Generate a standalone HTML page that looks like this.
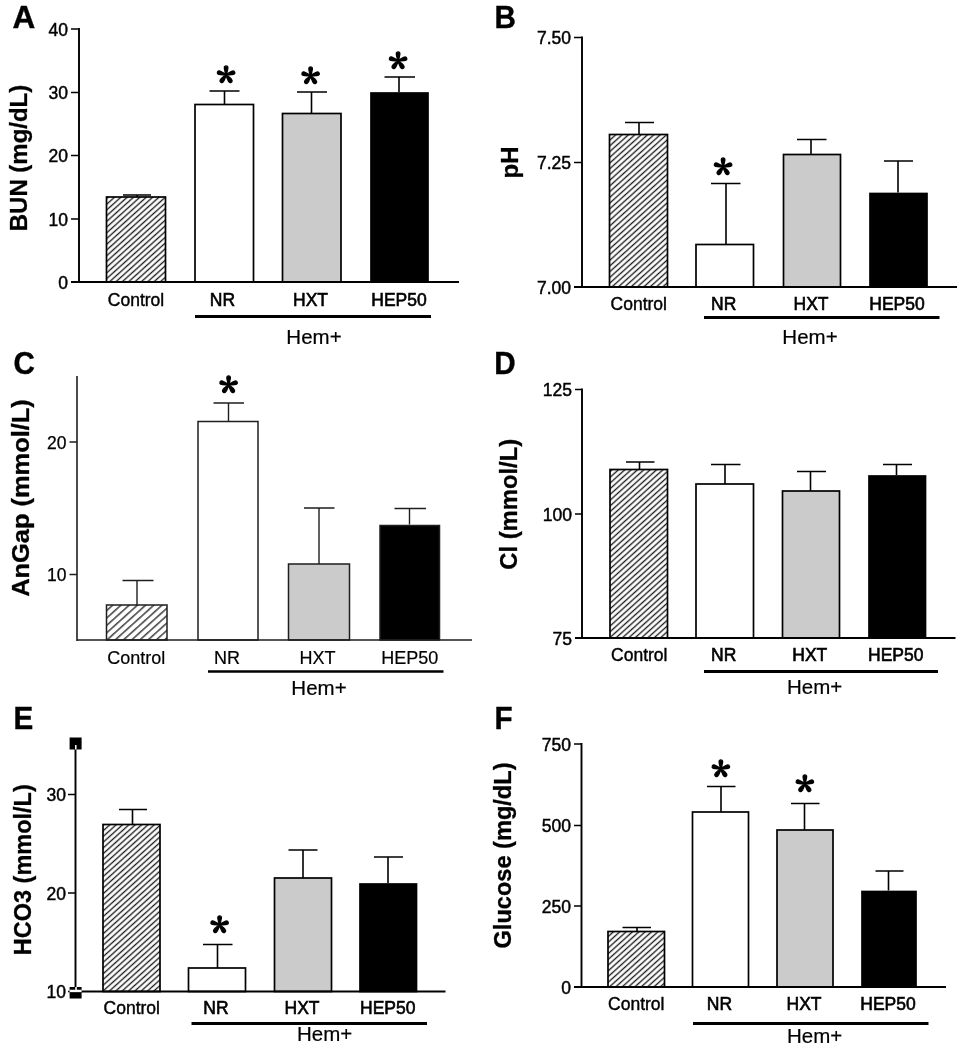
<!DOCTYPE html>
<html lang="en"><head><meta charset="utf-8"><title>Figure: BUN, pH, AnGap, Cl, HCO3, Glucose</title>
<style>
html,body{margin:0;padding:0;background:#fff;}
body{width:960px;height:1050px;overflow:hidden;}
svg{display:block;filter:grayscale(1) blur(0.35px);}
svg text{font-family:"Liberation Sans",Arial,Helvetica,sans-serif;fill:#000;}
.tick{font-size:17.5px;text-anchor:end;stroke:#000;stroke-width:0.45px;}
.cat{font-size:17.5px;text-anchor:middle;stroke:#000;stroke-width:0.4px;}
.catb{font-size:17.5px;text-anchor:middle;stroke:#000;stroke-width:0.6px;}
.hem{font-size:20.5px;text-anchor:middle;stroke:#000;stroke-width:0.2px;}
.let{font-size:31.5px;font-weight:bold;stroke:#000;stroke-width:0.4px;}
.yl{font-size:24px;font-weight:bold;text-anchor:middle;stroke:#000;stroke-width:0.3px;}
.ast{font-family:"Noto Serif CJK SC","Liberation Serif",serif;font-size:38.5px;font-weight:bold;text-anchor:middle;stroke:#000;stroke-width:1.3px;stroke-linejoin:round;}
.ax{stroke:#000;stroke-width:1.9;fill:none;stroke-linecap:butt;}
.tk{stroke:#000;stroke-width:1.5;fill:none;}
.er{stroke:#000;stroke-width:1.6;fill:none;}
.bar{stroke:#000;stroke-width:1.7;}
.ul{stroke:#000;stroke-width:3;}
.pc .ax{stroke:#1e1e1e;stroke-width:1.6;}
.pc .tk{stroke:#1e1e1e;stroke-width:1.3;}
.pc .er{stroke:#1e1e1e;stroke-width:1.4;}
.pc .bar{stroke:#1e1e1e;stroke-width:1.5;}
.pc .cat{font-size:18px;stroke-width:0.2px;}
.pc .tick{stroke-width:0.25px;}
.pc .ul{stroke-width:2.5;}
</style></head><body>
<svg width="960" height="1050" viewBox="0 0 960 1050">
<defs><pattern id="hatch" patternUnits="userSpaceOnUse" width="20" height="4.25" patternTransform="rotate(-42)">
<rect width="20" height="4.25" fill="#fff"/>
<rect y="1.5" width="20" height="1.35" fill="#1c1c1c"/>
</pattern>
<pattern id="hatchC" patternUnits="userSpaceOnUse" width="20" height="5.5" patternTransform="rotate(-42)">
<rect width="20" height="5.5" fill="#fff"/>
<rect y="2" width="20" height="1.3" fill="#222"/>
</pattern></defs>
<rect width="960" height="1050" fill="#fff"/>
<g class="p">
<text class="let" transform="translate(12.5 28) scale(1 1)">A</text>
<text class="yl" transform="translate(27 158) rotate(-90)" textLength="146.5" lengthAdjust="spacingAndGlyphs">BUN (mg/dL)</text>
<rect class="bar" x="106.5" y="197" width="59" height="85" fill="url(#hatch)"/>
<rect class="bar" x="195" y="104.5" width="58.5" height="177.5" fill="#fff"/>
<rect class="bar" x="282.5" y="113.5" width="58.5" height="168.5" fill="#cbcbcb"/>
<rect class="bar" x="371" y="93" width="57" height="189" fill="#000"/>
<path class="er" d="M137 197 V195 M123 195 H151"/>
<path class="er" d="M224.5 104.5 V91 M209.5 91 H239.5"/>
<path class="er" d="M311.5 113.5 V92 M297 92 H327"/>
<path class="er" d="M399 92 V77 M384.5 77 H415"/>
<path class="ax" d="M79 28.05 V282 M71 282 H459"/>
<path class="tk" d="M71 29 H79 M71 92.5 H79 M71 155.5 H79 M71 219 H79"/>
<text class="tick" x="68" y="35.7">40</text>
<text class="tick" x="68" y="99.2">30</text>
<text class="tick" x="68" y="162.2">20</text>
<text class="tick" x="68" y="225.7">10</text>
<text class="tick" x="68" y="288.7">0</text>
<text class="ast" x="226" y="97.6">*</text>
<text class="ast" x="310.6" y="98.6">*</text>
<text class="ast" x="398" y="83.6">*</text>
<text class="cat" x="136" y="305.5">Control</text>
<text class="catb" x="222.5" y="305.5">NR</text>
<text class="catb" x="310.5" y="305.5">HXT</text>
<text class="catb" x="399" y="305.5">HEP50</text>
<path class="ul" d="M195 316.5 H431"/>
<text class="hem" x="314" y="344">Hem+</text>
</g>
<g class="p">
<text class="let" transform="translate(494.5 28) scale(0.94 1)">B</text>
<text class="yl" transform="translate(518 162.5) rotate(-90)">pH</text>
<rect class="bar" x="609.5" y="134.5" width="58" height="152.5" fill="url(#hatch)"/>
<rect class="bar" x="696" y="244.5" width="57.5" height="42.5" fill="#fff"/>
<rect class="bar" x="783.5" y="154.5" width="57" height="132.5" fill="#cbcbcb"/>
<rect class="bar" x="870" y="193.5" width="57" height="93.5" fill="#000"/>
<path class="er" d="M639 134.5 V122.5 M625 122.5 H654"/>
<path class="er" d="M726 244.5 V183.5 M711 183.5 H740.5"/>
<path class="er" d="M811 154.5 V139.5 M797 139.5 H826.5"/>
<path class="er" d="M898 192.5 V161 M884 161 H913"/>
<path class="ax" d="M582 36.55 V287 M574 287 H957"/>
<path class="tk" d="M574 37.5 H582 M574 162.5 H582"/>
<text class="tick" x="571" y="44.2">7.50</text>
<text class="tick" x="571" y="169.2">7.25</text>
<text class="tick" x="571" y="293.7">7.00</text>
<text class="ast" x="723" y="190">*</text>
<text class="cat" x="638.75" y="310.3">Control</text>
<text class="catb" x="723.7" y="310.3">NR</text>
<text class="catb" x="811" y="310.3">HXT</text>
<text class="catb" x="897" y="310.3">HEP50</text>
<path class="ul" d="M704 317.5 H939.5"/>
<text class="hem" x="810" y="344">Hem+</text>
</g>
<g class="pc">
<text class="let" transform="translate(13.5 374) scale(0.94 1)">C</text>
<text class="yl" transform="translate(29.3 498) rotate(-90)" textLength="197.6" lengthAdjust="spacingAndGlyphs">AnGap (mmol/L)</text>
<rect class="bar" x="106.5" y="605" width="60.5" height="35" fill="url(#hatchC)"/>
<rect class="bar" x="198" y="421.5" width="60" height="218.5" fill="#fff"/>
<rect class="bar" x="288.5" y="564" width="61" height="76" fill="#cbcbcb"/>
<rect class="bar" x="380" y="525.5" width="59.5" height="114.5" fill="#000"/>
<path class="er" d="M137 605 V580.5 M122.5 580.5 H153.5"/>
<path class="er" d="M228.5 421.5 V403 M213.5 403 H244"/>
<path class="er" d="M319 564 V508 M304 508 H334.5"/>
<path class="er" d="M409.5 524.5 V508.5 M394.5 508.5 H426"/>
<path class="ax" d="M77 376.05 V640.95 M77 640 H472"/>
<path class="tk" d="M69.5 442 H77 M69.5 574.5 H77"/>
<text class="tick" x="66.5" y="448.7">20</text>
<text class="tick" x="66.5" y="581.2">10</text>
<text class="ast" x="228.5" y="407.6">*</text>
<text class="cat" x="136.25" y="664">Control</text>
<text class="cat" x="227" y="664">NR</text>
<text class="cat" x="317.5" y="664">HXT</text>
<text class="cat" x="409.7" y="664">HEP50</text>
<path class="ul" d="M208 671.5 H443.5"/>
<text class="hem" x="319" y="694.7">Hem+</text>
</g>
<g class="p">
<text class="let" transform="translate(494.3 374) scale(0.94 1)">D</text>
<text class="yl" transform="translate(517 504.3) rotate(-90)" textLength="131" lengthAdjust="spacingAndGlyphs">Cl (mmol/L)</text>
<rect class="bar" x="610" y="469.5" width="57.5" height="168.5" fill="url(#hatch)"/>
<rect class="bar" x="696" y="484" width="57.5" height="154" fill="#fff"/>
<rect class="bar" x="782.5" y="491" width="57" height="147" fill="#cbcbcb"/>
<rect class="bar" x="869" y="476" width="56.5" height="162" fill="#000"/>
<path class="er" d="M639.5 469.5 V462 M626 462 H654.5"/>
<path class="er" d="M725 484 V464.5 M711 464.5 H740.5"/>
<path class="er" d="M810.5 491 V471.5 M797 471.5 H826"/>
<path class="er" d="M896.5 475 V464.5 M883 464.5 H912"/>
<path class="ax" d="M582 388.55 V638 M575 638 H955.5"/>
<path class="tk" d="M575 389.5 H582 M575 514 H582"/>
<text class="tick" x="572" y="396.2">125</text>
<text class="tick" x="572" y="520.7">100</text>
<text class="tick" x="572" y="644.7">75</text>
<text class="cat" x="639.25" y="661">Control</text>
<text class="catb" x="723.7" y="661">NR</text>
<text class="catb" x="809.8" y="661">HXT</text>
<text class="catb" x="895.8" y="661">HEP50</text>
<path class="ul" d="M704 671.5 H938"/>
<text class="hem" x="814.7" y="694">Hem+</text>
</g>
<g class="p">
<text class="let" transform="translate(13.5 729) scale(0.94 1)">E</text>
<text class="yl" transform="translate(31 869.7) rotate(-90)" textLength="171" lengthAdjust="spacingAndGlyphs">HCO3 (mmol/L)</text>
<rect class="bar" x="103" y="824.5" width="57" height="167" fill="url(#hatch)"/>
<rect class="bar" x="188.5" y="968" width="57" height="23.5" fill="#fff"/>
<rect class="bar" x="274.5" y="878" width="57" height="113.5" fill="#cbcbcb"/>
<rect class="bar" x="360" y="884" width="56.5" height="107.5" fill="#000"/>
<path class="er" d="M132.5 824.5 V809.5 M119 809.5 H147"/>
<path class="er" d="M217.5 968 V944.5 M203 944.5 H232.5"/>
<path class="er" d="M303 878 V850 M288.5 850 H317.5"/>
<path class="er" d="M388 883 V857 M374 857 H403"/>
<path class="ax" d="M75.5 745 V992.45 M75.5 991.5 H445.5"/>
<path class="tk" d="M68 794.5 H75.5 M68 893 H75.5 M68 991.5 H75.5"/>
<text class="tick" x="66" y="801.2">30</text>
<text class="tick" x="66" y="899.7">20</text>
<text class="tick" x="66" y="998.2">10</text>
<rect x="69.6" y="737.5" width="12" height="12" fill="#000"/>
<rect x="69.6" y="987" width="12" height="11.5" fill="#000"/>
<path d="M75.8 745 V749.5" stroke="#fff" stroke-width="1.5" fill="none"/>
<path d="M69.6 990.95 H81.6" stroke="#fff" stroke-width="2.4" fill="none"/>
<path d="M76 987 V990.25" stroke="#fff" stroke-width="1.6" fill="none"/>
<text class="ast" x="219.7" y="948.1">*</text>
<text class="cat" x="131.75" y="1013.5">Control</text>
<text class="catb" x="216" y="1013.5">NR</text>
<text class="catb" x="302" y="1013.5">HXT</text>
<text class="catb" x="387.8" y="1013.5">HEP50</text>
<path class="ul" d="M191.5 1023.5 H427"/>
<text class="hem" x="324.7" y="1040.6">Hem+</text>
</g>
<g class="p">
<text class="let" transform="translate(494.5 728.7) scale(0.94 1)">F</text>
<text class="yl" transform="translate(510.5 855.5) rotate(-90)" textLength="186" lengthAdjust="spacingAndGlyphs">Glucose (mg/dL)</text>
<rect class="bar" x="608" y="931.5" width="56.5" height="55.5" fill="url(#hatch)"/>
<rect class="bar" x="692.5" y="812" width="56" height="175" fill="#fff"/>
<rect class="bar" x="777" y="830" width="56" height="157" fill="#cbcbcb"/>
<rect class="bar" x="862" y="891.5" width="54" height="95.5" fill="#000"/>
<path class="er" d="M637 931.5 V927.5 M622.5 927.5 H651"/>
<path class="er" d="M721 812 V786.5 M707 786.5 H735.5"/>
<path class="er" d="M804.5 830 V803.5 M791 803.5 H819.5"/>
<path class="er" d="M888.5 890.5 V871 M875.5 871 H903.5"/>
<path class="ax" d="M581.5 743.05 V987 M574 987 H946"/>
<path class="tk" d="M574 744 H581.5 M574 825.5 H581.5 M574 906 H581.5"/>
<text class="tick" x="571" y="750.7">750</text>
<text class="tick" x="571" y="832.2">500</text>
<text class="tick" x="571" y="912.7">250</text>
<text class="tick" x="571" y="993.7">0</text>
<text class="ast" x="720.8" y="791.6">*</text>
<text class="ast" x="804.8" y="807.2">*</text>
<text class="cat" x="636.25" y="1009.6">Control</text>
<text class="catb" x="719.4" y="1009.6">NR</text>
<text class="catb" x="804" y="1009.6">HXT</text>
<text class="catb" x="888" y="1009.6">HEP50</text>
<path class="ul" d="M693 1023.5 H928.5"/>
<text class="hem" x="814.7" y="1042.6">Hem+</text>
</g>
</svg></body></html>
